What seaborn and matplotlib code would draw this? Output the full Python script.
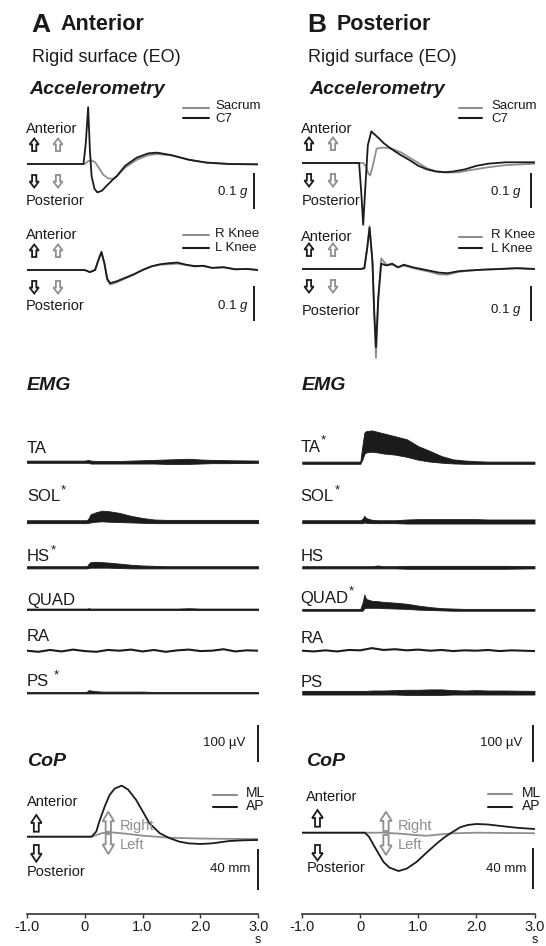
import matplotlib
matplotlib.use("Agg")
import matplotlib.pyplot as plt
import seaborn as sns
import numpy as np
import pandas as pd
from matplotlib.lines import Line2D
from matplotlib.patches import Polygon
from matplotlib.transforms import Affine2D

# ======================= DATA =======================
# ---- Accelerometry, g ----
A_c7_t = [-1.0, -0.02, 0.02, 0.06, 0.09, 0.12, 0.17, 0.22, 0.30, 0.40, 0.48, 0.55, 0.70, 0.90, 1.10, 1.25, 1.50, 1.80, 2.10, 2.50, 3.00]
A_c7_v = [0.0, 0.0, 0.06, 0.160, 0.04, -0.035, -0.070, -0.080, -0.075, -0.058, -0.045, -0.035, -0.005, 0.018, 0.030, 0.032, 0.025, 0.012, 0.004, 0.000, -0.001]
A_sac_t = [-1.0, 0.00, 0.06, 0.12, 0.18, 0.25, 0.32, 0.40, 0.48, 0.55, 0.70, 0.90, 1.10, 1.25, 1.50, 1.80, 2.10, 2.50, 3.00]
A_sac_v = [0.0, 0.0, 0.008, 0.010, 0.005, -0.012, -0.030, -0.040, -0.042, -0.035, -0.010, 0.012, 0.025, 0.028, 0.024, 0.012, 0.004, 0.000, -0.001]
A_knee_t = [-1.0, -0.5, 0.00, 0.09, 0.18, 0.24, 0.29, 0.34, 0.39, 0.44, 0.55, 0.70, 0.85, 1.00, 1.15, 1.30, 1.45, 1.60, 1.75, 1.90, 2.05, 2.20, 2.40, 2.60, 2.80, 3.00]
A_lknee_v = [0.0, 0.0, 0.0, -0.006, 0.0, 0.030, 0.051, 0.020, -0.025, -0.037, -0.032, -0.022, -0.012, 0.000, 0.010, 0.016, 0.019, 0.021, 0.015, 0.011, 0.012, 0.006, 0.008, 0.002, 0.003, 0.000]
A_rknee_v = [0.0, 0.0, 0.0, -0.006, 0.0, 0.028, 0.049, 0.018, -0.028, -0.041, -0.035, -0.024, -0.013, 0.000, 0.010, 0.015, 0.016, 0.018, 0.014, 0.010, 0.011, 0.006, 0.007, 0.002, 0.003, 0.000]

B_c7_t = [-1.0, -0.02, 0.02, 0.05, 0.09, 0.13, 0.19, 0.25, 0.33, 0.41, 0.55, 0.70, 0.85, 1.00, 1.15, 1.30, 1.45, 1.60, 1.80, 2.00, 2.20, 2.50, 3.00]
B_c7_v = [0.0, 0.0, -0.090, -0.174, -0.060, 0.050, 0.089, 0.080, 0.068, 0.055, 0.038, 0.022, 0.008, -0.008, -0.018, -0.024, -0.026, -0.024, -0.018, -0.008, -0.002, 0.002, 0.002]
B_sac_t = [-1.0, 0.05, 0.10, 0.14, 0.17, 0.22, 0.28, 0.35, 0.45, 0.55, 0.70, 0.85, 1.00, 1.15, 1.30, 1.50, 1.70, 1.90, 2.20, 2.50, 3.00]
B_sac_v = [0.0, 0.0, -0.010, -0.030, -0.035, -0.005, 0.040, 0.043, 0.043, 0.040, 0.030, 0.015, 0.000, -0.015, -0.023, -0.027, -0.026, -0.020, -0.012, -0.006, -0.002]
B_knee_t = [-1.0, -0.5, 0.00, 0.07, 0.12, 0.16, 0.21, 0.24, 0.27, 0.31, 0.36, 0.45, 0.55, 0.65, 0.75, 0.90, 1.05, 1.20, 1.35, 1.50, 1.70, 1.90, 2.10, 2.40, 2.70, 3.00]
B_lknee_v = [0.0, 0.0, 0.0, 0.002, 0.060, 0.117, 0.020, -0.120, -0.220, -0.080, 0.015, 0.010, 0.015, 0.005, 0.012, 0.005, 0.000, -0.005, -0.010, -0.012, -0.006, -0.004, -0.002, 0.000, 0.002, 0.000]
B_rknee_v = [0.0, 0.0, 0.0, 0.002, 0.060, 0.120, 0.020, -0.130, -0.250, -0.090, 0.030, 0.012, 0.012, 0.004, 0.010, 0.003, -0.003, -0.008, -0.015, -0.016, -0.008, -0.004, -0.002, 0.000, 0.003, 0.000]

# ---- EMG envelopes, microvolts (upper / lower edge of the trace) ----
emg_t = [-1.0, -0.5, 0.0, 0.04, 0.07, 0.1, 0.2, 0.3, 0.4, 0.6, 0.8, 1.0, 1.2, 1.4, 1.6, 1.8, 2.0, 2.2, 2.5, 3.0]
A_TA_up = [3, 3, 3, 4, 5, 3, 2, 2, 2, 2, 3, 4, 5, 6, 7, 8, 6, 5, 4, 3]
A_TA_lo = [-3, -3, -3, -3, -3, -5, -5, -5, -5, -5, -5, -5, -5, -6, -6, -6, -5, -4, -4, -3]
A_SOL_up = [4, 4, 4, 4, 10, 20, 26, 30, 29, 24, 16, 10, 6, 5, 5, 5, 5, 5, 5, 5]
A_SOL_lo = [-4, -4, -4, -4, -3, -2, 0, 1, 0, -1, -2, -3, -4, -4, -4, -4, -4, -4, -4, -4]
A_HS_up = [3, 3, 3, 3, 10, 14, 15, 14, 13, 10, 7, 5, 4, 3, 3, 3, 3, 3, 3, 3]
A_HS_lo = [-3, -3, -3, -3, -2, -1, -1, -1, -1, -2, -3, -3, -3, -3, -3, -3, -3, -3, -3, -3]
A_QUAD_up = [2, 2, 2, 2, 3, 2, 2, 2, 2, 2, 2, 2, 2, 2, 2, 3, 2, 2, 2, 2]
A_QUAD_lo = [-2, -2, -2, -2, -2, -2, -2, -2, -2, -2, -2, -2, -2, -2, -2, -2, -2, -2, -2, -2]
A_PS_up = [2, 2, 2, 3, 7, 6, 4, 3, 3, 3, 3, 3, 2, 2, 2, 2, 2, 2, 2, 2]
A_PS_lo = [-2, -2, -2, -2, -2, -2, -2, -2, -2, -2, -2, -2, -2, -2, -2, -2, -2, -2, -2, -2]

B_TA_up = [3, 3, 3, 50, 82, 86, 88, 84, 80, 72, 64, 45, 32, 18, 9, 6, 4, 3, 3, 3]
B_TA_lo = [-3, -3, -3, 10, 24, 28, 30, 28, 25, 22, 16, 8, 3, 0, -2, -3, -3, -3, -3, -3]
B_SOL_up = [4, 4, 4, 8, 16, 10, 5, 4, 4, 4, 6, 7, 7, 7, 7, 7, 7, 6, 6, 6]
B_SOL_lo = [-4, -4, -4, -4, -2, -3, -4, -4, -4, -4, -5, -5, -5, -5, -5, -5, -5, -5, -5, -5]
B_HS_up = [3, 3, 3, 3, 3, 3, 3, 5, 3, 3, 4, 4, 4, 4, 4, 4, 4, 4, 4, 3]
B_HS_lo = [-3, -3, -3, -3, -3, -3, -3, -3, -3, -3, -4, -4, -4, -4, -4, -4, -4, -4, -4, -3]
B_QUAD_up = [3, 3, 3, 20, 42, 30, 25, 24, 22, 20, 17, 12, 8, 5, 4, 3, 3, 3, 3, 3]
B_QUAD_lo = [-2, -2, -2, -2, 5, 6, 6, 6, 5, 4, 3, 1, 0, -1, -2, -2, -2, -2, -2, -2]
B_PS_up = [5, 5, 5, 5, 5, 5, 6, 6, 6, 7, 8, 8, 9, 9, 7, 6, 7, 6, 6, 5]
B_PS_lo = [-5, -5, -5, -5, -5, -5, -5, -5, -5, -5, -6, -6, -6, -6, -5, -5, -5, -5, -5, -5]

ra_t = [-1.0, -0.8, -0.6, -0.4, -0.2, 0.0, 0.2, 0.4, 0.6, 0.8, 1.0, 1.2, 1.4, 1.6, 1.8, 2.0, 2.2, 2.4, 2.6, 2.8, 3.0]
A_RA = [0, -3, 2, -2, 3, -1, -3, 2, 0, 3, -2, 2, -3, 1, 3, -1, 0, 4, -2, 1, 0]
B_RA = [0, -2, 1, -2, 2, 1, 7, 2, 4, 1, 3, 0, 2, -1, 1, 0, 2, -1, 1, 0, -1]

# ---- Centre of pressure, mm ----
A_ap_t = [-1.0, 0.0, 0.12, 0.20, 0.26, 0.35, 0.43, 0.52, 0.64, 0.75, 0.89, 1.00, 1.12, 1.30, 1.47, 1.64, 1.80, 2.00, 2.20, 2.50, 2.75, 3.00]
A_ap_v = [0.0, 0.0, 0.0, 5.0, 16.0, 30.0, 40.7, 47.0, 49.8, 46.0, 35.8, 25.0, 13.0, 3.3, -1.5, -4.9, -6.5, -7.1, -6.5, -4.2, -3.5, -3.2]
A_ml_t = [-1.0, 0.0, 0.12, 0.30, 0.45, 0.70, 1.00, 1.47, 2.00, 2.50, 3.00]
A_ml_v = [0.0, 0.0, 0.0, 3.5, 4.3, 3.0, 1.0, -1.0, -1.8, -2.1, -2.3]
B_ap_t = [-1.0, 0.0, 0.08, 0.15, 0.28, 0.40, 0.50, 0.66, 0.80, 0.97, 1.15, 1.32, 1.45, 1.57, 1.72, 1.85, 2.00, 2.20, 2.41, 2.70, 3.00]
B_ap_v = [0.0, 0.0, 0.0, -4.0, -17.0, -28.5, -34.0, -37.4, -35.0, -28.5, -19.0, -10.4, -4.5, 0.0, 5.3, 7.5, 8.5, 8.0, 6.6, 4.8, 3.6]
B_ml_t = [-1.0, 0.0, 0.40, 0.70, 1.00, 1.14, 1.35, 1.60, 2.00, 3.00]
B_ml_v = [0.0, 0.0, 0.0, -1.0, -2.5, -3.0, -1.8, -0.6, 0.0, -0.5]

time_ticks = [-1.0, 0.0, 1.0, 2.0, 3.0]
time_labels = ["-1.0", "0", "1.0", "2.0", "3.0"]

ACC_SCALE = 0.1     # g
EMG_SCALE = 100.0   # microvolts
COP_SCALE = 40.0    # mm

# ======================= STYLE / LAYOUT =======================
sns.set_theme(style="white")
plt.rcParams['font.family'] = ['Liberation Sans', 'DejaVu Sans']
plt.rcParams['mathtext.fontset'] = 'custom'
plt.rcParams['mathtext.it'] = 'Liberation Sans:italic'
plt.rcParams['mathtext.rm'] = 'Liberation Sans'

BLACK = '#1b1b1b'
GREY = '#8e8e8e'
TXT = '#1a1a1a'
LW = 1.3

W, H = 546, 946
fig = plt.figure(figsize=(W / 100, H / 100), dpi=100)
fig.patch.set_facecolor('white')
PX = Affine2D().scale(1.0 / W, -1.0 / H).translate(0, 1) + fig.transFigure

COLX = {'A': (26.8, 258.3), 'B': (302.2, 534.5)}


def px_to_t(col, xpx):
    x0, x1 = COLX[col]
    return -1.0 + 4.0 * (xpx - x0) / (x1 - x0)


def trace_ax(col, base, ytop, ybot, upp):
    x0, x1 = COLX[col]
    ax = fig.add_axes([x0 / W, 1 - ybot / H, (x1 - x0) / W, (ybot - ytop) / H])
    ax.set_xlim(-1, 3)
    ax.set_ylim(-(ybot - base) * upp, (base - ytop) * upp)
    ax.axis('off')
    return ax


def trace(ax, t, v, color):
    sns.lineplot(x=t, y=v, ax=ax, color=color, linewidth=LW, estimator=None,
                 sort=False, legend=False)


def txt(x, y, s, **kw):
    kw.setdefault('color', TXT)
    kw.setdefault('va', 'center')
    return fig.text(x, y, s, transform=PX, **kw)


def add_star(label_artist, gap=0.5):
    return plt.annotate('*', xy=(1, 0.95), xycoords=label_artist, xytext=(gap, 0),
                        textcoords='offset points', ha='left', va='center',
                        fontsize=9.5, color=TXT, annotation_clip=False)


def block_arrow(xc, ytail, yhead, width, color, lw=1.3):
    sgn = np.sign(yhead - ytail)
    L = abs(yhead - ytail)
    hl = L * 0.48
    sh = width * 0.23
    hh = width / 2.0
    yb = yhead - sgn * hl
    pts = [(xc - sh, ytail), (xc + sh, ytail), (xc + sh, yb), (xc + hh, yb),
           (xc, yhead), (xc - hh, yb), (xc - sh, yb)]
    fig.add_artist(Polygon(pts, closed=True, transform=PX, fc='white', ec=color,
                           lw=lw, joinstyle='miter'))


def leg_line(x0, x1, y, color):
    fig.add_artist(Line2D([x0, x1], [y, y], transform=PX, color=color, lw=LW + 0.2))


def vbar(ax, col, xpx, ytop_val, length):
    t = px_to_t(col, xpx)
    ax.plot([t, t], [ytop_val, ytop_val - length], color=BLACK, lw=1.4,
            solid_capstyle='butt', clip_on=False)


# ======================= TITLES =======================
txt(31.0, 25, 'A', fontsize=19, fontweight='bold')
txt(60.0, 25, 'Anterior', fontsize=15.5, fontweight='bold')
txt(307.5, 25, 'B', fontsize=19, fontweight='bold')
txt(336.3, 25, 'Posterior', fontsize=15.5, fontweight='bold')
txt(31.7, 58, 'Rigid surface (EO)', fontsize=13)
txt(308.0, 58, 'Rigid surface (EO)', fontsize=13)
txt(29.3, 90, 'Accelerometry', fontsize=14, fontweight='bold', fontstyle='italic')
txt(309.7, 90, 'Accelerometry', fontsize=14, fontweight='bold', fontstyle='italic')
txt(26.7, 385, 'EMG', fontsize=14, fontweight='bold', fontstyle='italic')
txt(301.3, 385, 'EMG', fontsize=14, fontweight='bold', fontstyle='italic')
txt(27.0, 761, 'CoP', fontsize=14, fontweight='bold', fontstyle='italic')
txt(306.4, 761, 'CoP', fontsize=14, fontweight='bold', fontstyle='italic')

# ======================= ACCELEROMETRY =======================
ACC_UPP = ACC_SCALE / 35.5
acc_cfg = {
    'A': dict(b1=164.0, b2=270.0, bar_x=254.3, txt_r=248.0, lx=(182.7, 209.3), tx=215.0,
              ax_lab=26.0, arr=(34.2, 58.0),
              y1=dict(ant=129.0, post=200.7, g=192.3, l1=107.7, l2=118.3),
              y2=dict(ant=235.0, post=306.0, g=306.0, l1=235.0, l2=247.8)),
    'B': dict(b1=163.0, b2=269.0, bar_x=531.3, txt_r=521.3, lx=(458.5, 482.3), tx=491.3,
              ax_lab=301.3, arr=(309.0, 333.0),
              y1=dict(ant=129.3, post=201.0, g=192.3, l1=107.7, l2=118.3),
              y2=dict(ant=236.7, post=310.7, g=310.0, l1=236.7, l2=248.3)),
}
acc_data = {
    'A': ((A_sac_t, A_sac_v, A_c7_t, A_c7_v), (A_knee_t, A_rknee_v, A_knee_t, A_lknee_v)),
    'B': ((B_sac_t, B_sac_v, B_c7_t, B_c7_v), (B_knee_t, B_rknee_v, B_knee_t, B_lknee_v)),
}
for col in ['A', 'B']:
    c = acc_cfg[col]
    for k, (base, yy, names, bar_top) in enumerate([
            (c['b1'], c['y1'], ('Sacrum', 'C7'), 173.0),
            (c['b2'], c['y2'], ('R Knee', 'L Knee'), 286.0)]):
        ax = trace_ax(col, base, base - 75, base + 100, ACC_UPP)
        gt, gv, bt, bv = acc_data[col][k]
        trace(ax, gt, gv, GREY)
        trace(ax, bt, bv, BLACK)
        vbar(ax, col, c['bar_x'], -(bar_top - base) * ACC_UPP, ACC_SCALE)
        txt(c['txt_r'], yy['g'], r'0.1 $\mathit{g}$', fontsize=9.5, ha='right')
        # legend
        leg_line(c['lx'][0], c['lx'][1], yy['l1'], GREY)
        leg_line(c['lx'][0], c['lx'][1], yy['l2'], BLACK)
        txt(c['tx'], yy['l1'] - 1.5, names[0], fontsize=9.5)
        txt(c['tx'], yy['l2'] + 0.5, names[1], fontsize=9.5)
        # direction labels and arrows
        txt(c['ax_lab'], yy['ant'], 'Anterior', fontsize=10.5)
        txt(c['ax_lab'], yy['post'], 'Posterior', fontsize=10.5)
        up_tail, up_head = base - 13.0, base - 25.5
        dn_tail, dn_head = base + 11.0, base + 23.5
        for xc, colr in zip(c['arr'], (BLACK, GREY)):
            block_arrow(xc, up_tail, up_head, 9.2, colr)
            block_arrow(xc, dn_tail, dn_head, 9.2, colr)

# ======================= EMG =======================
EMG_UPP = EMG_SCALE / 36.7
emg_rows = ['TA', 'SOL', 'HS', 'QUAD', 'RA', 'PS']
emg_base = {'A': [461.7, 521.7, 567.3, 609.3, 650.7, 692.7],
            'B': [462.7, 521.7, 567.3, 610.0, 650.7, 692.7]}
emg_lab_y = {'A': [448.3, 496.7, 556.7, 600.0, 636.7, 681.7],
             'B': [447.3, 496.7, 556.7, 598.3, 638.3, 682.7]}
emg_lab_x = {'A': 27.0, 'B': 300.5}
emg_star = {'A': {'SOL': 0.5, 'HS': 0.5, 'PS': 3.0}, 'B': {'TA': 0.5, 'SOL': 0.5, 'QUAD': 0.5}}
emg_env = {
    'A': {'TA': (A_TA_lo, A_TA_up), 'SOL': (A_SOL_lo, A_SOL_up), 'HS': (A_HS_lo, A_HS_up),
          'QUAD': (A_QUAD_lo, A_QUAD_up), 'PS': (A_PS_lo, A_PS_up), 'RA': A_RA},
    'B': {'TA': (B_TA_lo, B_TA_up), 'SOL': (B_SOL_lo, B_SOL_up), 'HS': (B_HS_lo, B_HS_up),
          'QUAD': (B_QUAD_lo, B_QUAD_up), 'PS': (B_PS_lo, B_PS_up), 'RA': B_RA},
}
for col in ['A', 'B']:
    for i, name in enumerate(emg_rows):
        base = emg_base[col][i]
        ax = trace_ax(col, base, base - 38, base + 12, EMG_UPP)
        if name == 'RA':
            sns.lineplot(x=ra_t, y=emg_env[col]['RA'], ax=ax, color=BLACK, linewidth=1.5,
                         estimator=None, sort=False, legend=False)
        else:
            lo, up = emg_env[col][name]
            ax.fill_between(emg_t, lo, up, color=BLACK, lw=0.6, edgecolor=BLACK)
        lab = txt(emg_lab_x[col], emg_lab_y[col][i], name, fontsize=12)
        if name in emg_star[col]:
            add_star(lab, emg_star[col][name])
    # EMG scale bar
    bar_x = 258.0 if col == 'A' else 532.7
    axb = trace_ax(col, 725.0, 715.0, 775.0, EMG_UPP)
    vbar(axb, col, bar_x, 0.0, EMG_SCALE)
    txt(245.5 if col == 'A' else 522.3, 743.3, '100 \u00b5V', fontsize=9.5, ha='right')

# ======================= CoP =======================
COP_UPP = COP_SCALE / 41.0
cop_cfg = {
    'A': dict(base=836.7, bar_x=258.3, bar_top=849.0, txt_r=250.0, lx=(213.3, 236.7), tx=245.7,
              lab_x=26.7, ant=801.7, post=871.7, arr_x=36.3, up=(831.7, 815.0), dn=(845.0, 861.7),
              rl_x=108.3, rl_up=(831.7, 811.7), rl_dn=(834.0, 854.0), rl_tx=119.3,
              ap=(A_ap_t, A_ap_v), ml=(A_ml_t, A_ml_v)),
    'B': dict(base=832.7, bar_x=532.7, bar_top=848.3, txt_r=526.7, lx=(488.3, 511.7), tx=521.7,
              lab_x=306.4, ant=797.3, post=868.3, arr_x=317.5, up=(826.7, 810.0), dn=(845.0, 860.5),
              rl_x=386.0, rl_up=(831.0, 811.7), rl_dn=(835.0, 855.0), rl_tx=397.3,
              ap=(B_ap_t, B_ap_v), ml=(B_ml_t, B_ml_v)),
}
for col in ['A', 'B']:
    c = cop_cfg[col]
    ax = trace_ax(col, c['base'], c['base'] - 60, c['base'] + 60, COP_UPP)
    trace(ax, c['ml'][0], c['ml'][1], GREY)
    trace(ax, c['ap'][0], c['ap'][1], BLACK)
    vbar(ax, col, c['bar_x'], -(c['bar_top'] - c['base']) * COP_UPP, COP_SCALE)
    txt(c['txt_r'], 869.0, '40 mm', fontsize=9.5, ha='right')
    leg_line(c['lx'][0], c['lx'][1], 795.0 if col == 'A' else 794.3, GREY)
    leg_line(c['lx'][0], c['lx'][1], 806.5, BLACK)
    txt(c['tx'], 792.7, 'ML', fontsize=10)
    txt(c['tx'], 805.5, 'AP', fontsize=10)
    txt(c['lab_x'], c['ant'], 'Anterior', fontsize=10.5)
    txt(c['lab_x'], c['post'], 'Posterior', fontsize=10.5)
    block_arrow(c['arr_x'], c['up'][0], c['up'][1], 10.7, BLACK)
    block_arrow(c['arr_x'], c['dn'][0], c['dn'][1], 10.7, BLACK)
    block_arrow(c['rl_x'], c['rl_up'][0], c['rl_up'][1], 11.5, GREY)
    block_arrow(c['rl_x'], c['rl_dn'][0], c['rl_dn'][1], 11.5, GREY)
    txt(c['rl_tx'], 826.0, 'Right', fontsize=10.5, color=GREY)
    txt(c['rl_tx'], 844.5, 'Left', fontsize=10.5, color=GREY)

# ======================= TIME AXES =======================
for col in ['A', 'B']:
    x0, x1 = COLX[col]
    ax = fig.add_axes([x0 / W, 1 - 914.0 / H, (x1 - x0) / W, 8 / H])
    ax.set_facecolor('none')
    ax.set_xlim(-1, 3)
    ax.set_ylim(0, 1)
    for s in ['top', 'left', 'right']:
        ax.spines[s].set_visible(False)
    ax.spines['bottom'].set_color('#333333')
    ax.spines['bottom'].set_linewidth(1.2)
    ax.set_yticks([])
    ax.set_xticks(time_ticks)
    ax.set_xticklabels(time_labels, fontsize=10.5, color=TXT)
    ax.tick_params(axis='x', direction='out', length=3, width=1.0, color='#333333', pad=1.6,
                   bottom=True)
    txt(x1, 943.0, 's', fontsize=9, ha='center', va='baseline')

fig.savefig('out.png', dpi=100, facecolor='white')
